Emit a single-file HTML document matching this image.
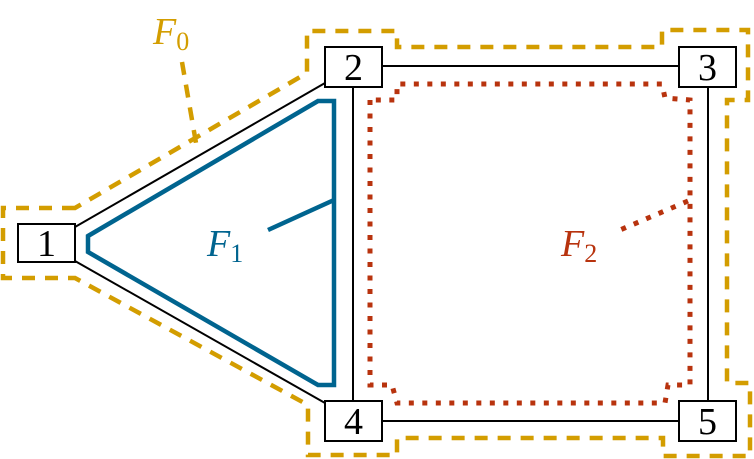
<!DOCTYPE html>
<html><head><meta charset="utf-8"><style>
html,body{margin:0;padding:0;background:#fff;width:754px;height:459px;overflow:hidden}
svg{display:block}
text{font-family:"Liberation Serif",serif}
</style></head><body>
<svg width="754" height="459" viewBox="0 0 754 459" xmlns="http://www.w3.org/2000/svg">
<g fill="none" stroke="#d39d00" stroke-width="4.5" stroke-dasharray="13,10">
<path d="M75,208 L3,208 L3,278 L75,278 L308,405 L308,455 L397,455 L397,438 L663,438 L663,456 L750,456 L750,383 L727,383 L727,100 L748,100 L748,30 L662,30 L662,47 L397,47 L397,31 L307,31 L307,73 Z"/>
<path d="M182,62 L196,143"/>
</g>
<g fill="none" stroke="#b8330e" stroke-width="5" stroke-dasharray="5,8.5">
<path d="M370,100 L370,385 L392,385 L397,403 L665,403 L668,385 L690,385 L690,100 L665,98 L662,84 L397,84 L397,100 Z"/>
<path d="M688,201 L620,230"/>
</g>
<g fill="none" stroke="#00648f" stroke-width="4.5">
<path d="M88,236 L318,101 L334,101 L334,385 L318,385 L88,252 Z"/>
<path d="M334,200 L268,230"/>
</g>
<g stroke="#000" stroke-width="2" fill="none">
<line x1="75" y1="227" x2="325" y2="83"/>
<line x1="75" y1="261" x2="325" y2="403"/>
<line x1="382" y1="66" x2="679" y2="66"/>
<line x1="353" y1="87" x2="353" y2="401"/>
<line x1="708" y1="87" x2="708" y2="401"/>
<line x1="382" y1="421" x2="679" y2="421"/>
</g>
<g stroke="#000" stroke-width="2" fill="#fff">
<rect x="18" y="224" width="57" height="38"/>
<rect x="325" y="47" width="57" height="40"/>
<rect x="679" y="47" width="57" height="40"/>
<rect x="325" y="401" width="57" height="40"/>
<rect x="679" y="401" width="57" height="40"/>
</g>
<g font-size="38" text-anchor="middle" fill="#000">
<text x="46.5" y="256">1</text>
<text x="353.5" y="80">2</text>
<text x="707.5" y="80">3</text>
<text x="353.5" y="434">4</text>
<text x="707.5" y="434">5</text>
</g>
<text x="153" y="44" font-size="38" fill="#d39d00" font-style="italic">F<tspan font-size="26" dy="6" font-style="normal">0</tspan></text>
<text x="207" y="256" font-size="38" fill="#00648f" font-style="italic">F<tspan font-size="26" dy="6" font-style="normal">1</tspan></text>
<text x="561" y="256" font-size="38" fill="#b8330e" font-style="italic">F<tspan font-size="26" dy="6" font-style="normal">2</tspan></text>
</svg>
</body></html>
